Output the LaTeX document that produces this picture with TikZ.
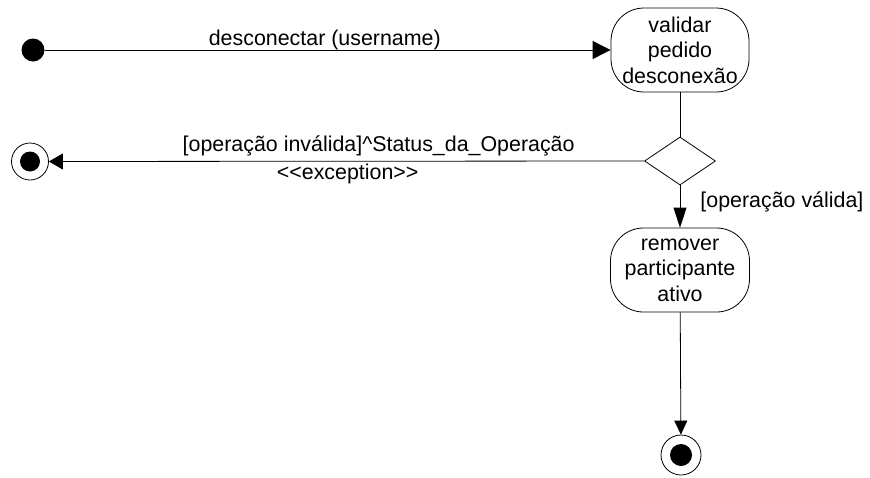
\documentclass[tikz,border=0pt]{standalone}
\usepackage{fontspec}
\setmainfont{Liberation Sans}
\usetikzlibrary{arrows.meta,shapes.geometric}
\begin{document}
\begin{tikzpicture}[x=1pt,y=-1pt,
  every node/.style={font=\fontsize{21.4}{25.5}\selectfont},
  line/.style={draw=black,line width=0.8pt},
  flow/.style={line,-{Triangle[length=16pt,width=15pt]}},
  act/.style={draw,line width=0.8pt,rounded corners=33pt,align=center,inner sep=0pt},
  startdot/.style={circle,fill=black,inner sep=0pt,minimum size=23pt},
  enddot/.style={circle,fill=black,inner sep=0pt,minimum size=#1},
  endring/.style={circle,draw,line width=0.8pt,inner sep=0pt,minimum size=#1},
  lbl/.style={inner sep=0pt}]
\useasboundingbox (0,0) rectangle (870,477);
\fill[white] (0,0) rectangle (870,477);
\node[startdot] (start) at (33,50) {};
\node[act,minimum width=138pt,minimum height=84pt] (val) at (680,50) {validar\\pedido\\desconexão};
\node[diamond,draw,line width=0.8pt,inner sep=0pt,minimum width=71pt,minimum height=48pt] (dec) at (680,161) {};
\node[act,minimum width=139pt,minimum height=84pt] (rem) at (680,270) {remover\\participante\\ativo};
\node[endring=37pt] (endA) at (30,161.5) {};
\node[enddot=20pt] at (endA) {};
\node[endring=40pt] (endB) at (681,455) {};
\node[enddot=22pt] at (endB) {};
\draw[flow,-{Triangle[length=18pt,width=18pt]}] (start) -- (val.west)
  node[lbl,pos=0.495,anchor=base,yshift=5pt] {desconectar (username)};
\draw[line] (val) -- (dec);
\draw[flow,-{Triangle[length=14pt,width=16pt]}] (dec.west) -- (endA)
  node[lbl,pos=0.446,anchor=base,yshift=10pt] {[operação inválida]\^{}Status\_da\_Operação}
  node[lbl,pos=0.498,anchor=base,yshift=-18.5pt] {<{}<exception>{}>};
\draw[flow,-{Triangle[length=20pt,width=13pt]}] (dec.south) -- (rem.north)
  node[lbl,pos=0.5,anchor=base west,xshift=20pt,yshift=-1pt] {[operação válida]};
\draw[flow,-{Triangle[length=14pt,width=13pt]}] (rem) -- (endB);
\end{tikzpicture}
\end{document}
